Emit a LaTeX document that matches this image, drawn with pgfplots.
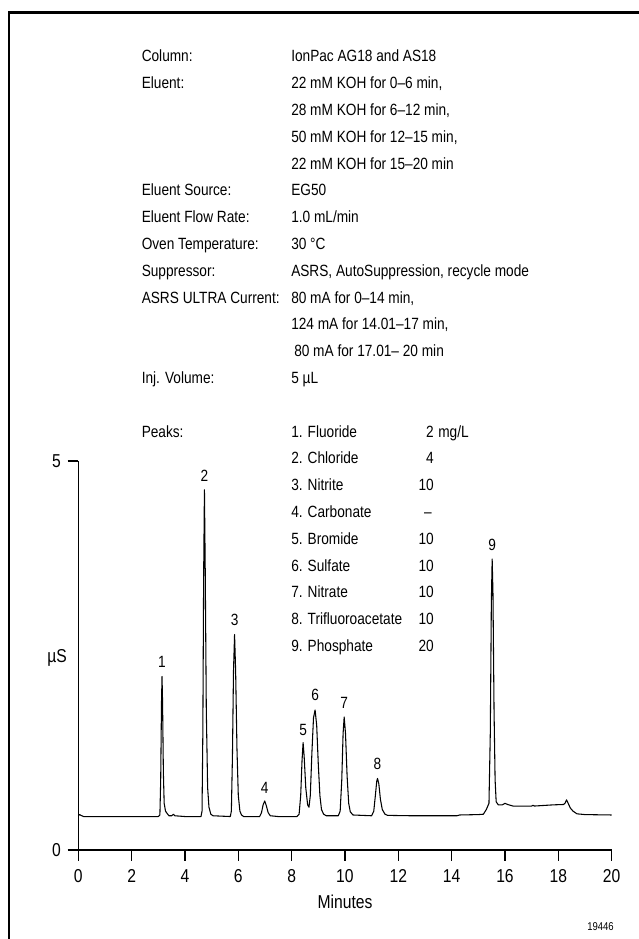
\documentclass[border=0pt]{standalone}
\usepackage{fontspec}
\setmainfont{Liberation Sans}[FakeStretch=0.84]
\usepackage{pgfplots}
\pgfplotsset{compat=1.18}
\begin{document}
\begin{tikzpicture}[x=0.75pt,y=0.75pt]
\useasboundingbox (0,0) rectangle (639,939);
\draw[line width=2pt] (9,0) -- (9,926.3) -- (639,926.3);
\tikzset{lab/.style={anchor=base west, inner sep=0pt, font=\fontsize{12.2}{14}\selectfont},
         num/.style={anchor=base east, inner sep=0pt, font=\fontsize{12.2}{14}\selectfont}}
% header rows: baseline y = 877 - 26.8 i
\node[lab] at (141.5,877)   {Column:};
\node[lab] at (291,877)     {IonPac AG18 and AS18};
\node[lab] at (141.5,850.2) {Eluent:};
\node[lab] at (291,850.2)   {22 mM KOH for 0--6 min,};
\node[lab] at (291,823.4)   {28 mM KOH for 6--12 min,};
\node[lab] at (291,796.6)   {50 mM KOH for 12--15 min,};
\node[lab] at (291,769.8)   {22 mM KOH for 15--20 min};
\node[lab] at (141.5,743)   {Eluent Source:};
\node[lab] at (291,743)     {EG50};
\node[lab] at (141.5,716.2) {Eluent Flow Rate:};
\node[lab] at (291,716.2)   {1.0 mL/min};
\node[lab] at (141.5,689.4) {Oven Temperature:};
\node[lab] at (291,689.4)   {30 °C};
\node[lab] at (141.5,662.6) {Suppressor:};
\node[lab] at (291,662.6)   {ASRS, AutoSuppression, recycle mode};
\node[lab] at (141.5,635.8) {ASRS ULTRA Current:};
\node[lab] at (291,635.8)   {80 mA for 0--14 min,};
\node[lab] at (291,609)     {124 mA for 14.01--17 min,};
\node[lab] at (294,582.2)   {80 mA for 17.01-- 20 min};
\node[lab] at (141.5,555.4) {Inj. Volume:};
\node[lab] at (291,555.4)   {5 µL};
\node[lab] at (141.5,501.8) {Peaks:};
% peak list
\node[lab] at (291,501.8) {1. Fluoride};   \node[num] at (434,501.8) {2}; \node[lab] at (438,501.8) {mg/L};
\node[lab] at (291,475)   {2. Chloride};   \node[num] at (434,475)   {4};
\node[lab] at (291,448.2) {3. Nitrite};    \node[num] at (434,448.2) {10};
\node[lab] at (291,421.4) {4. Carbonate};  \node[num] at (432,421.4) {--};
\node[lab] at (291,394.6) {5. Bromide};    \node[num] at (434,394.6) {10};
\node[lab] at (291,367.8) {6. Sulfate};    \node[num] at (434,367.8) {10};
\node[lab] at (291,341)   {7. Nitrate};    \node[num] at (434,341)   {10};
\node[lab] at (291,314.2) {8. Trifluoroacetate}; \node[num] at (434,314.2) {10};
\node[lab] at (291,287.4) {9. Phosphate};  \node[num] at (434,287.4) {20};
% axis labels
\node[inner sep=0pt, font=\fontsize{14}{16}\selectfont] at (57,281) {µS};
\node[inner sep=0pt, font=\fontsize{14}{16}\selectfont] at (345,37) {Minutes};
\node[anchor=base east, inner sep=0pt, font=\fontsize{8.5}{10}\selectfont] at (614,8) {19446};
\begin{axis}[
  at={(58.725pt,66.75pt)}, anchor=south west,
  scale only axis, width=400pt, height=291.75pt,
  xmin=0, xmax=20, ymin=0, ymax=5,
  axis lines=left, axis line style={-, line width=0.8pt},
  xtick={0,2,...,20}, ytick={0,5},
  tick align=outside, major tick length=8pt,
  tick style={line width=0.8pt, black},
  ticklabel style={font=\fontsize{14}{16}\selectfont},
  xticklabel style={yshift=-3pt},
  yticklabel style={xshift=-1.5pt},
  /pgf/number format/assume math mode=true,
  clip=false,
]
\addplot[black, line width=0.8pt, line join=round] coordinates {
(0,0.44)(0.05,0.455)(0.1,0.445)(0.2,0.43)(1,0.43)(2,0.43)(2.8,0.43)(3.0,0.43)
(3.06,0.45)(3.09,0.9)(3.12,1.9)(3.14,2.23)(3.16,1.9)(3.19,1.0)(3.22,0.6)(3.27,0.5)(3.33,0.47)(3.4,0.44)(3.5,0.44)(3.57,0.46)(3.62,0.44)
(4.0,0.43)(4.6,0.43)(4.64,0.5)(4.67,1.5)(4.7,3.5)(4.73,4.63)(4.76,3.6)(4.8,1.8)(4.85,0.8)(4.9,0.55)(4.97,0.46)(5.05,0.44)
(5.7,0.43)(5.74,0.5)(5.78,1.2)(5.82,2.3)(5.86,2.77)(5.9,2.3)(5.95,1.3)(6.0,0.7)(6.06,0.5)(6.12,0.45)(6.2,0.43)
(6.8,0.43)(6.87,0.48)(6.93,0.58)(6.99,0.63)(7.05,0.57)(7.12,0.48)(7.2,0.44)(7.5,0.43)
(8.2,0.43)(8.28,0.46)(8.34,0.7)(8.39,1.15)(8.43,1.38)(8.47,1.2)(8.53,0.8)(8.6,0.58)(8.65,0.55)(8.7,0.7)(8.76,1.25)(8.82,1.7)(8.88,1.80)(8.94,1.6)(9.0,1.1)(9.06,0.7)(9.12,0.52)(9.2,0.46)(9.3,0.44)
(9.75,0.44)(9.82,0.5)(9.88,0.9)(9.93,1.5)(9.97,1.71)(10.02,1.5)(10.08,0.95)(10.14,0.6)(10.2,0.49)(10.3,0.45)
(11.0,0.44)(11.08,0.5)(11.14,0.7)(11.19,0.88)(11.22,0.92)(11.27,0.85)(11.33,0.65)(11.4,0.52)(11.5,0.46)(11.6,0.445)
(12.5,0.44)(14.2,0.44)(14.3,0.45)(15.0,0.455)(15.19,0.46)(15.3,0.52)(15.4,0.6)
(15.45,1.5)(15.49,3.2)(15.52,3.74)(15.55,3.3)(15.59,1.8)(15.63,0.9)(15.67,0.62)(15.75,0.58)(15.9,0.58)(16.0,0.6)(16.1,0.585)(16.3,0.565)
(17.0,0.565)(17.05,0.575)(17.1,0.565)(17.8,0.58)(18.2,0.585)(18.25,0.6)(18.31,0.645)(18.37,0.6)(18.45,0.54)(18.55,0.5)(18.7,0.465)(19.0,0.455)(20,0.45)
};
\tikzset{pk/.style={inner sep=0pt, font=\fontsize{12.2}{14}\selectfont}}
\node[pk] at (axis cs:3.14,2.42) {1};
\node[pk] at (axis cs:4.73,4.81) {2};
\node[pk] at (axis cs:5.86,2.96) {3};
\node[pk] at (axis cs:6.99,0.80) {4};
\node[pk] at (axis cs:8.43,1.54) {5};
\node[pk] at (axis cs:8.88,1.99) {6};
\node[pk] at (axis cs:9.97,1.89) {7};
\node[pk] at (axis cs:11.22,1.11) {8};
\node[pk] at (axis cs:15.52,3.92) {9};
\end{axis}
\end{tikzpicture}
\end{document}
